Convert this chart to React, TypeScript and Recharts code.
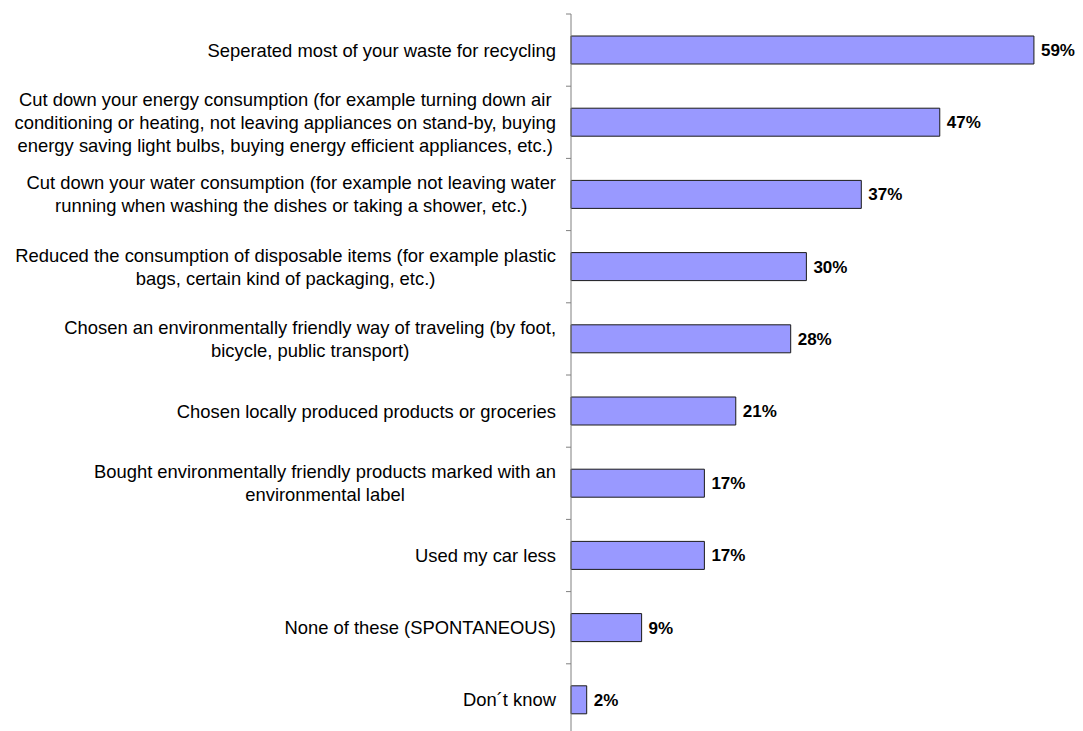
import React from "react"
import { BarChart, Bar, XAxis, YAxis, LabelList } from "recharts"

// answers, top to bottom (line breaks as in the source slide)
const categories = [
  "Seperated most of your waste for recycling",
  "Cut down your energy consumption (for example turning down air\nconditioning or heating, not leaving appliances on stand-by, buying\nenergy saving light bulbs, buying energy efficient appliances, etc.)",
  "Cut down your water consumption (for example not leaving water\nrunning when washing the dishes or taking a shower, etc.)",
  "Reduced the consumption of disposable items (for example plastic\nbags, certain kind of packaging, etc.)",
  "Chosen an environmentally friendly way of traveling (by foot,\nbicycle, public transport)",
  "Chosen locally produced products or groceries",
  "Bought environmentally friendly products marked with an\nenvironmental label",
  "Used my car less",
  "None of these (SPONTANEOUS)",
  "Don´t know",
]

const values = [59, 47, 37, 30, 28, 21, 17, 17, 9, 2]

const chartData = categories.map((name, i) => ({ name, value: values[i] }))

const FONT = "'Liberation Sans', Arial, sans-serif"
const LABEL_SIZE = 18.4
const W = 1083
const H = 736
const MARGIN = { top: 14, right: 2, bottom: 0, left: 0 }
const AXIS_W = 571
const TICK_GAP = 15
const LINE_H = 23
const BAND = (H - MARGIN.top - MARGIN.bottom) / categories.length

let ctx: CanvasRenderingContext2D | null = null
function textWidth(s: string) {
  if (!ctx) {
    ctx = document.createElement("canvas").getContext("2d")
    if (ctx) ctx.font = `${LABEL_SIZE}px ${FONT}`
  }
  return ctx ? ctx.measureText(s).width : s.length * 9
}

function CategoryTick({ x, y, payload }: any) {
  const lines = String(payload.value).split("\n")
  const blockW = Math.max(...lines.map(textWidth))
  const cx = x - blockW / 2
  const axisX = x + TICK_GAP
  return (
    <g>
      <line x1={axisX - 5} x2={axisX} y1={y - BAND / 2} y2={y - BAND / 2} stroke="#808080" />
      <text fontSize={LABEL_SIZE} fontFamily={FONT} fill="#000" textAnchor="middle">
        {lines.map((l, i) => (
          <tspan key={i} x={cx} y={y + (i - (lines.length - 1) / 2) * LINE_H} dy="0.35em">
            {l}
          </tspan>
        ))}
      </text>
    </g>
  )
}

export default function App() {
  return (
    <div style={{ width: W, height: 731, overflow: "hidden", background: "#fff" }}>
      <style>{"body{margin:0;overflow:hidden}"}</style>
      <BarChart width={W} height={H} data={chartData} layout="vertical" margin={MARGIN}>
        <XAxis type="number" domain={[0, 65]} hide />
        <YAxis
          type="category"
          dataKey="name"
          width={AXIS_W}
          axisLine={{ stroke: "#808080" }}
          tickLine={false}
          tickSize={0}
          tickMargin={TICK_GAP}
          interval={0}
          tick={<CategoryTick />}
        />
        <Bar dataKey="value" fill="#9999FF" stroke="#1a1a1a" strokeWidth={1} barSize={28} isAnimationActive={false}>
          <LabelList
            dataKey="value"
            position="right"
            offset={7}
            formatter={(v: any) => `${v}%`}
            fill="#000"
            fontSize={17}
            fontWeight="bold"
            fontFamily={FONT}
          />
        </Bar>
      </BarChart>
    </div>
  )
}
